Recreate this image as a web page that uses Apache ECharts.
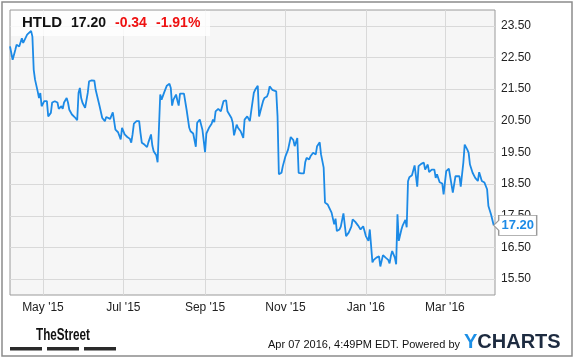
<!DOCTYPE html>
<html><head><meta charset="utf-8">
<script src="https://cdn.jsdelivr.net/npm/echarts@6/dist/echarts.min.js"></script>
<style>html,body{margin:0;padding:0;background:#fff}#c{width:575px;height:358px}</style>
</head><body><div id="c"></div>
<script>
// ---- data ----
const ticker = 'HTLD';
const lastText = '17.20';
const changeText = '-0.34';
const pctText = '-1.91%';
const footerText = 'Apr 07 2016, 4:49PM EDT. Powered by';
const axisStart = [2015, 3, 6];   // Apr 6 2015
const axisEnd = [2016, 3, 8];     // Apr 8 2016
// days since axis start
const days = [
  0,2,4,5,6,7,9,10,11,13,
  14,16,17,18,19,21,22,23,24,25,
  26,28,29,31,32,34,36,37,39,40,
  41,43,44,45,47,49,51,52,53,54,
  55,57,59,60,62,64,65,66,68,70,
  72,73,76,78,80,82,84,85,87,89,
  91,92,93,94,96,98,99,100,102,104,
  105,107,108,109,111,112,114,115,117,119,
  121,122,123,124,126,127,128,129,132,133,
  134,136,137,139,141,142,144,145,146,148,
  149,151,153,154,155,156,158,160,161,162,
  164,165,166,168,169,170,172,173,175,177,
  178,180,181,182,183,185,186,188,189,190,
  192,193,195,196,197,199,200,202,203,204,
  206,207,209,211,213,215,216,218,219,221,
  223,224,225,227,228,230,232,233,235,236,
  238,239,241,242,244,246,247,248,250,251,
  253,255,257,259,260,262,264,265,266,268,
  269,270,272,273,275,276,278,280,281,283,
  285,287,288,289,290,292,293,294,295,297,
  298,300,301,302,303,305,306,307,309,310,
  312,314,315,317,318,320,322,323,324,326,
  328,329,331,333,334,336,338,339,341,342,
  344,345,347,348,349,351,353,355,356,358,
  360,362,363,365,367
];
const prices = [
  22.85,22.43,22.74,22.90,22.96,22.85,23.11,22.96,23.01,23.22,
  23.16,23.34,23.16,22.11,21.80,21.43,21.22,21.38,20.96,20.91,
  21.12,21.12,20.64,20.75,21.08,21.12,21.08,20.88,20.96,20.88,
  21.08,21.22,21.08,20.85,20.70,20.62,20.52,21.38,21.54,21.22,
  21.07,20.91,21.38,21.75,21.78,21.77,21.48,21.54,20.96,20.59,
  20.49,20.62,20.56,20.77,20.22,20.14,19.91,20.28,20.07,19.99,
  19.93,19.81,20.07,20.41,20.49,20.49,20.12,19.81,19.75,19.67,
  19.82,20.07,19.72,19.54,19.41,19.19,21.33,21.17,21.40,21.61,
  21.67,21.54,20.98,21.17,21.33,21.14,20.98,21.36,21.36,21.30,
  20.85,20.28,20.17,20.10,19.68,20.44,20.54,20.38,20.22,19.51,
  20.10,20.28,20.41,20.54,20.46,20.80,20.88,20.80,20.96,21.12,
  21.15,20.80,20.75,20.59,20.44,20.04,20.38,20.28,20.17,19.96,
  20.54,20.64,20.70,20.49,20.80,21.38,21.48,21.61,20.64,20.80,
  21.12,21.22,21.27,21.38,21.59,21.48,21.48,21.43,20.64,18.81,
  18.86,19.07,19.38,19.59,19.99,19.89,19.70,19.96,18.86,18.84,
  18.84,19.19,19.33,19.28,19.38,19.49,19.44,19.70,19.82,19.44,
  19.02,17.92,17.86,17.81,17.60,17.23,17.41,17.02,17.07,17.16,
  17.58,16.86,16.97,17.16,17.39,17.31,17.20,17.16,17.07,17.17,
  17.02,16.86,16.71,17.07,16.03,16.11,16.18,16.22,15.90,16.26,
  16.18,16.11,16.00,16.23,16.39,16.18,15.97,17.55,16.71,17.07,
  17.20,17.37,17.14,18.59,18.72,18.78,18.81,19.09,18.42,19.07,
  19.14,19.18,18.96,19.12,18.88,18.96,18.96,18.70,18.81,18.56,
  18.52,18.18,18.91,18.99,18.99,18.23,18.75,18.78,18.75,18.42,
  19.19,19.75,19.59,19.49,19.12,18.86,18.70,18.60,18.88,18.60,
  18.55,18.34,17.81,17.54,17.20
];
const xTickMonths = [[2015,4],[2015,6],[2015,8],[2015,10],[2016,0],[2016,2]];
const yTicks = [15.5,16.5,17.5,18.5,19.5,20.5,21.5,22.5,23.5];
const yMin = 15, yMax = 24;
const monthNames = ['Jan','Feb','Mar','Apr','May','Jun','Jul','Aug','Sep','Oct','Nov','Dec'];

// ---- build ----
const DAY = 86400000;
const t0 = new Date(axisStart[0], axisStart[1], axisStart[2]).getTime();
const t1 = new Date(axisEnd[0], axisEnd[1], axisEnd[2]).getTime();
const seriesData = days.map((d, i) => [t0 + d * DAY, prices[i]]);
const xTicks = xTickMonths.map(m => new Date(m[0], m[1], 1).getTime());
const lastPoint = seriesData[seriesData.length - 1];

const FONT = 'Arial, "Liberation Sans", Helvetica, sans-serif';
const BLUE = '#1c8ae6';

const chart = echarts.init(document.getElementById('c'), null, {renderer: 'canvas'});
chart.setOption({
  animation: false,
  backgroundColor: '#fff',
  grid: {left: 10, top: 10, right: 80, bottom: 63, show: true,
         backgroundColor: '#f6f6f6', borderColor: '#9a9a9a', borderWidth: 1},
  xAxis: {
    type: 'value', min: t0, max: t1, scale: true,
    axisLine: {show: false}, axisTick: {show: false, customValues: xTicks},
    axisLabel: {customValues: xTicks, color: '#222', fontSize: 12, fontFamily: FONT, margin: 7,
      formatter: v => { const d = new Date(v); return monthNames[d.getMonth()] + " '" + String(d.getFullYear()).slice(2); }},
    splitLine: {show: true, lineStyle: {color: '#d9d9d9', width: 1}}
  },
  yAxis: {
    type: 'value', position: 'right', min: yMin, max: yMax,
    axisLine: {show: false}, axisTick: {show: false, customValues: yTicks},
    axisLabel: {customValues: yTicks, color: '#222', fontSize: 12, fontFamily: FONT, margin: 6,
      formatter: v => v.toFixed(2)},
    splitLine: {show: true, lineStyle: {color: '#d9d9d9', width: 1}}
  },
  series: [{
    type: 'line', data: seriesData, showSymbol: false, symbol: 'none',
    lineStyle: {color: BLUE, width: 1.8}, z: 3,
    markPoint: {
      symbol: 'path://M0,10 L5,5 L5,0 L43,0 L43,20 L5,20 L5,15 Z',
      symbolSize: [43, 20], symbolKeepAspect: false, symbolOffset: [21.5, 0],
      itemStyle: {color: '#fff', borderColor: '#9a9a9a', borderWidth: 1},
      label: {show: true, position: 'inside', offset: [2.5, 0], color: BLUE,
              fontWeight: 'bold', fontSize: 13, fontFamily: FONT, formatter: lastText},
      data: [{coord: lastPoint}], z: 10
    }
  }],
  graphic: [
    {type: 'rect', shape: {x: 2, y: 2, width: 570, height: 354}, style: {fill: null, stroke: '#8c8c8c', lineWidth: 1.5}, z: 100, silent: true},
    {type: 'rect', shape: {x: 11, y: 11, width: 199, height: 25}, style: {fill: 'rgba(255,255,255,0.8)'}, z: 1},
    {type: 'text', x: 22, y: 23, style: {text: ticker, font: 'bold 15px ' + FONT, fill: '#111', textVerticalAlign: 'middle'}, z: 101},
    {type: 'text', x: 71, y: 23, style: {text: lastText, font: 'bold 14px ' + FONT, fill: '#111', textVerticalAlign: 'middle'}, z: 101},
    {type: 'text', x: 115, y: 23, style: {text: changeText, font: 'bold 14px ' + FONT, fill: '#ee1111', textVerticalAlign: 'middle'}, z: 101},
    {type: 'text', x: 156, y: 23, style: {text: pctText, font: 'bold 14px ' + FONT, fill: '#ee1111', textVerticalAlign: 'middle'}, z: 101},
    {type: 'text', x: 36, y: 336, scaleX: 0.73, style: {text: 'TheStreet', font: 'bold 16px ' + FONT, fill: '#111', textVerticalAlign: 'middle'}, z: 101},
    {type: 'rect', shape: {x: 10, y: 347, width: 32, height: 3.5}, style: {fill: '#2a2a2a'}, z: 101},
    {type: 'rect', shape: {x: 47, y: 347, width: 32, height: 3.5}, style: {fill: '#2a2a2a'}, z: 101},
    {type: 'rect', shape: {x: 84, y: 347, width: 32, height: 3.5}, style: {fill: '#2a2a2a'}, z: 101},
    {type: 'text', x: 460, y: 345, style: {text: footerText, font: '11px ' + FONT, fill: '#111', textAlign: 'right', textVerticalAlign: 'middle'}, z: 101},
    {type: 'text', x: 464, y: 342, style: {text: '{a|Y}{b|CHARTS}', textVerticalAlign: 'middle',
       rich: {a: {fontSize: 20, fontWeight: 'bold', fontFamily: FONT, fill: '#1c8fe6', color: '#1c8fe6'},
              b: {fontSize: 20, fontWeight: 'bold', fontFamily: FONT, fill: '#1d2b40', color: '#1d2b40'}}}, z: 101}
  ]
});
</script></body></html>
